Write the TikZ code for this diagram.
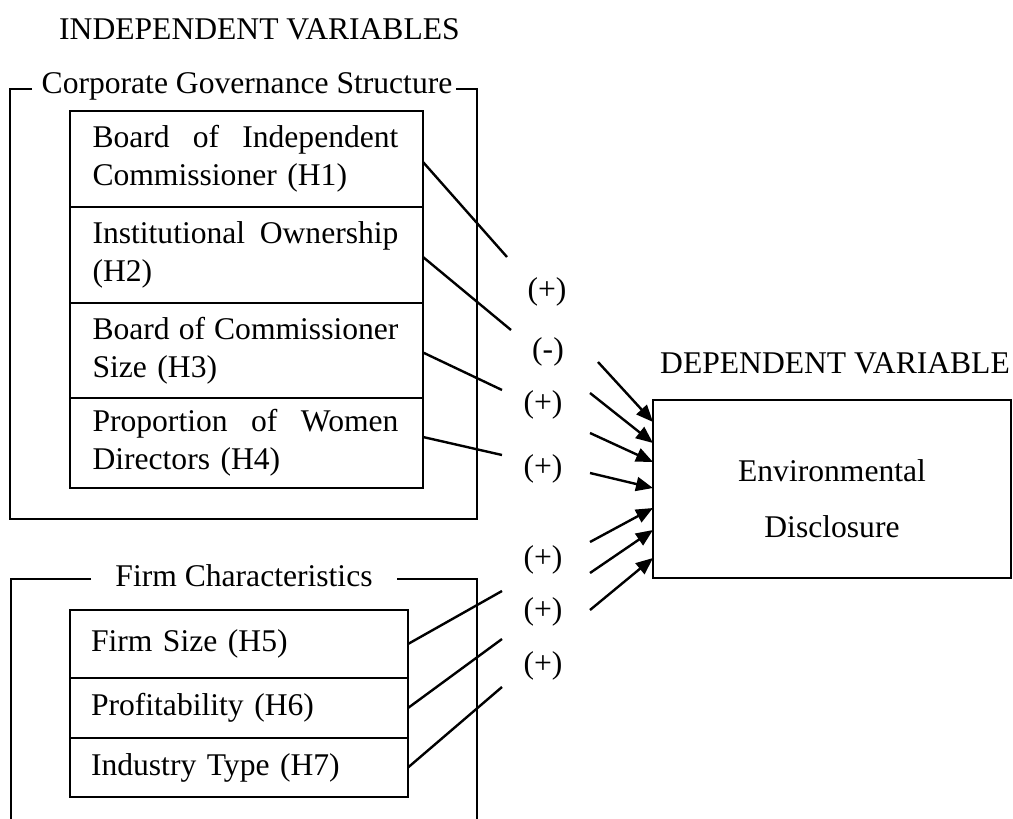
\documentclass[tikz,border=0pt]{standalone}
\usepackage{fontspec}
\setmainfont{Liberation Serif}
\usetikzlibrary{positioning,arrows.meta}
\tikzset{
  varbox/.style={draw,outer sep=0pt,inner xsep=22.5pt,text width=308pt,align=left,anchor=north west},
  firmbox/.style={draw,outer sep=0pt,inner xsep=21pt,text width=296pt,align=left,anchor=north west},
  sign/.style={inner sep=0pt},
  link/.style={-{Triangle[length=17pt,width=14pt]}},
}
\newcommand{\spreadline}[1]{\hbox to 306pt{#1}}
\begin{document}
\begin{tikzpicture}[x=1pt,y=-1pt,line width=2.4pt,font=\fontsize{31.6}{38}\selectfont]
  \useasboundingbox (0,0) rectangle (1013,819);
  \node[anchor=base west,inner sep=0pt] (indep) at (58,39) {INDEPENDENT VARIABLES};
  \node[anchor=base west,inner sep=0pt] (dep) at (659,373) {DEPENDENT VARIABLE};
  \node[anchor=base,inner sep=0pt] (cgs) at (247,93) {Corporate Governance Structure};
  \node[anchor=base,inner sep=0pt] (fc) at (244,586) {Firm Characteristics};
  \draw (32,89) -- (10,89) -- (10,519) -- (477,519) -- (477,89) -- (456,89);
  \draw (91,579) -- (11,579) -- (11,825);
  \draw (397,579) -- (477,579) -- (477,825);
  \node[varbox,minimum height=96pt] (h1) at (70,111)
    {\spreadline{Board\hfill of\hfill Independent}\\Commissioner (H1)};
  \node[varbox,minimum height=96pt,below=0pt of h1] (h2)
    {\spreadline{Institutional\hfill Ownership}\\(H2)};
  \node[varbox,minimum height=95pt,below=0pt of h2] (h3)
    {\spreadline{Board\hfill of\hfill Commissioner}\\Size (H3)};
  \node[varbox,minimum height=90pt,below=0pt of h3] (h4)
    {\spreadline{Proportion\hfill of\hfill Women}\\Directors (H4)};
  \node[firmbox,minimum height=68pt] (h5) at (70,610) {Firm Size (H5)};
  \node[firmbox,minimum height=60pt,below=0pt of h5] (h6) {Profitability (H6)};
  \node[firmbox,minimum height=59pt,below=0pt of h6] (h7) {Industry Type (H7)};
  \node[draw,outer sep=0pt,minimum width=358pt,minimum height=178pt,align=center] (env) at (832,489)
    {\rule{0pt}{41pt}Environmental\\[18pt]Disclosure};
  \node[sign] (s1) at (547,292) {(+)};
  \node[sign] (s2) at (548,352) {(-)};
  \node[sign] (s3) at (543,405) {(+)};
  \node[sign] (s4) at (543,469) {(+)};
  \node[sign] (s5) at (543,560) {(+)};
  \node[sign] (s6) at (543,612) {(+)};
  \node[sign] (s7) at (543,666) {(+)};
  \coordinate (l1) at (507,257);
  \coordinate (l2) at (511,330);
  \coordinate (l3) at (502,390);
  \coordinate (l4) at (502,455);
  \coordinate (l5) at (502,591);
  \coordinate (l6) at (502,639);
  \coordinate (l7) at (502,687);
  \coordinate (a1) at (598,362);
  \coordinate (a2) at (590,393);
  \coordinate (a3) at (590,433);
  \coordinate (a4) at (590,473);
  \coordinate (a5) at (590,542);
  \coordinate (a6) at (590,573);
  \coordinate (a7) at (590,610);
  \begin{scope}[-]
    \draw ([yshift=-3pt]h1.east) to (l1);
    \draw ([yshift=-2pt]h2.east) to (l2);
    \draw ([yshift=-2pt]h3.east) to (l3);
    \draw ([yshift=6pt]h4.east) to (l4);
    \draw (h5.east) to (l5);
    \draw (h6.east) to (l6);
    \draw (h7.east) to (l7);
  \end{scope}
  \begin{scope}[link]
    \draw (a1) to ([yshift=67pt]env.west);
    \draw (a2) to ([yshift=46pt]env.west);
    \draw (a3) to ([yshift=27pt]env.west);
    \draw (a4) to ([yshift=1pt]env.west);
    \draw (a5) to ([yshift=-19pt]env.west);
    \draw (a6) to ([yshift=-41pt]env.west);
    \draw (a7) to ([yshift=-69pt]env.west);
  \end{scope}
\end{tikzpicture}
\end{document}
